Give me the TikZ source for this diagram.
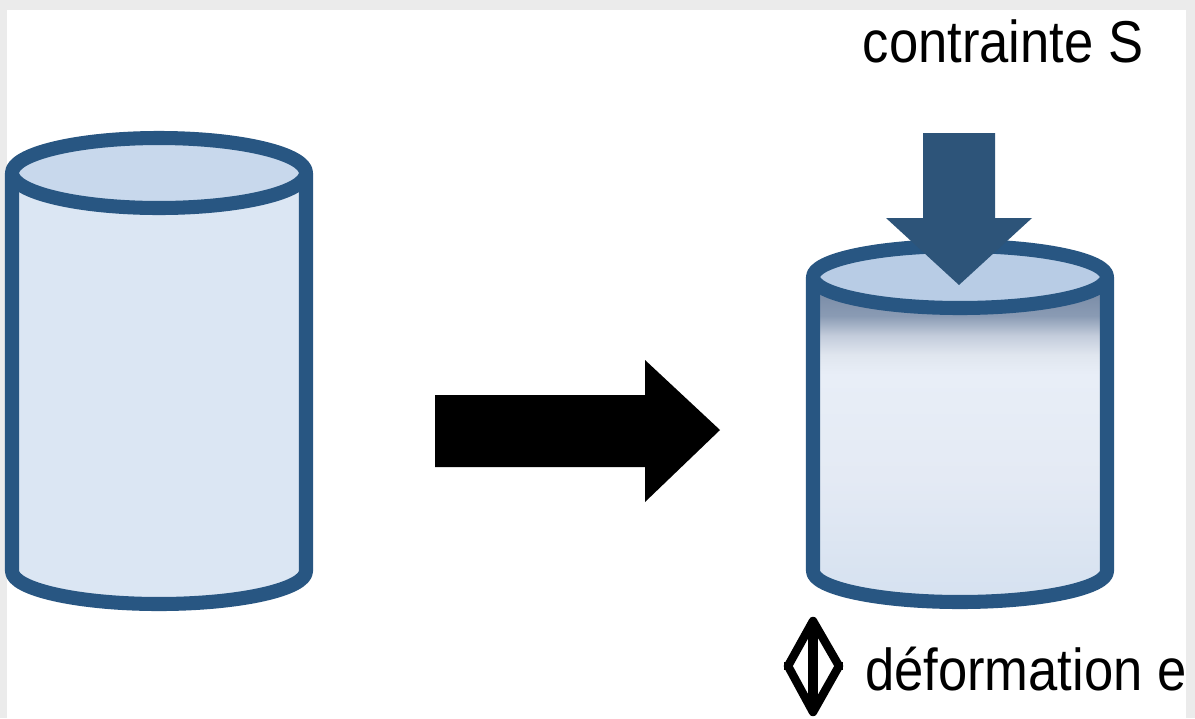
\documentclass[tikz,border=0pt]{standalone}
\usepackage{fontspec}
\newfontfamily\labelfont[FakeStretch=0.89]{Liberation Sans}
\usetikzlibrary{positioning}

\definecolor{cylblue}{HTML}{285682}
\definecolor{cyltop}{HTML}{C8D8EC}
\definecolor{cylbody}{HTML}{DBE6F3}
\definecolor{cyltoppressed}{HTML}{B8CCE5}
\definecolor{loadblue}{HTML}{2D5479}
\definecolor{framegray}{HTML}{EBEBEB}
\definecolor{squashA}{HTML}{7D8FA9}
\definecolor{squashB}{HTML}{8A9BB4}
\definecolor{squashC}{HTML}{C3CCDB}
\definecolor{squashD}{HTML}{E0E6EF}
\definecolor{squashE}{HTML}{E8EEF7}
\definecolor{squashF}{HTML}{E4EAF4}
\definecolor{squashG}{HTML}{D5E1F0}

% squashed body: dark just under the lid, light below
\pgfdeclareverticalshading{squashed}{100bp}{%
  color(0bp)=(squashG);
  color(25bp)=(squashG);
  color(44bp)=(squashF);
  color(60bp)=(squashE);
  color(63bp)=(squashD);
  color(66bp)=(squashC);
  color(69bp)=(squashB);
  color(72bp)=(squashA);
  color(100bp)=(squashA)}

\tikzset{%
  cyl line/.style={draw=cylblue, line width=10, line join=round},
  block arrow/.style={fill=black, draw=none},
  load arrow/.style={fill=loadblue, draw=none},
  caption/.style={font=\labelfont\fontsize{42}{48}\selectfont,
    inner sep=0pt, outer sep=0pt}
}

\begin{document}
\begin{tikzpicture}[x=0.025cm, y=-0.025cm]
\useasboundingbox (0,0) rectangle (1195,718);
\fill[framegray] (0,0) rectangle (1195,718);
\fill[white] (7,10) rectangle (1186,718);

% cylinder at rest
\path[cyl line, fill=cylbody] (12,173) -- (12,571)
  arc[start angle=180, end angle=0, x radius=147, y radius=33] -- (306,173);
\path[cyl line, fill=cyltop] (159,173) ellipse [x radius=147, y radius=35];

% block arrow between the two states
\path[block arrow] (435,395) -- (645,395) -- (645,360) -- (720,430)
  -- (645,502) -- (645,467) -- (435,467) -- cycle;

% cylinder under load
\shade[shading=squashed] (813,277) -- (813,571)
  arc[start angle=180, end angle=0, x radius=147, y radius=31] -- (1107,277) -- cycle;
\draw[cyl line] (813,277) -- (813,571)
  arc[start angle=180, end angle=0, x radius=147, y radius=31] -- (1107,277);
\path[cyl line, fill=cyltoppressed] (960,277) ellipse [x radius=147, y radius=31];

\path[load arrow] (923,133) -- (995,133) -- (995,218) -- (1032,218)
  -- (959,285) -- (886,218) -- (923,218) -- cycle;

\node[caption, anchor=base] (stress) at (1003,62) {contrainte S};

% strain symbol
\coordinate (sym top) at (813,621);
\coordinate (sym bot) at (813,712);
\coordinate (sym left) at (788,666);
\coordinate (sym right) at (839,666);
\draw[line width=6, line join=round] (sym top) -- (sym left) -- (sym bot)
  -- (sym right) -- cycle;
\draw[line width=7] (sym top) -- (sym bot);
\draw[line width=5] (sym left) ++(-4,0) -- ++(8,0);
\draw[line width=5] (sym right) ++(-4,0) -- ++(8,0);

\node[caption, anchor=base west] (strain) at (865,690) {déformation e};
\end{tikzpicture}
\end{document}
